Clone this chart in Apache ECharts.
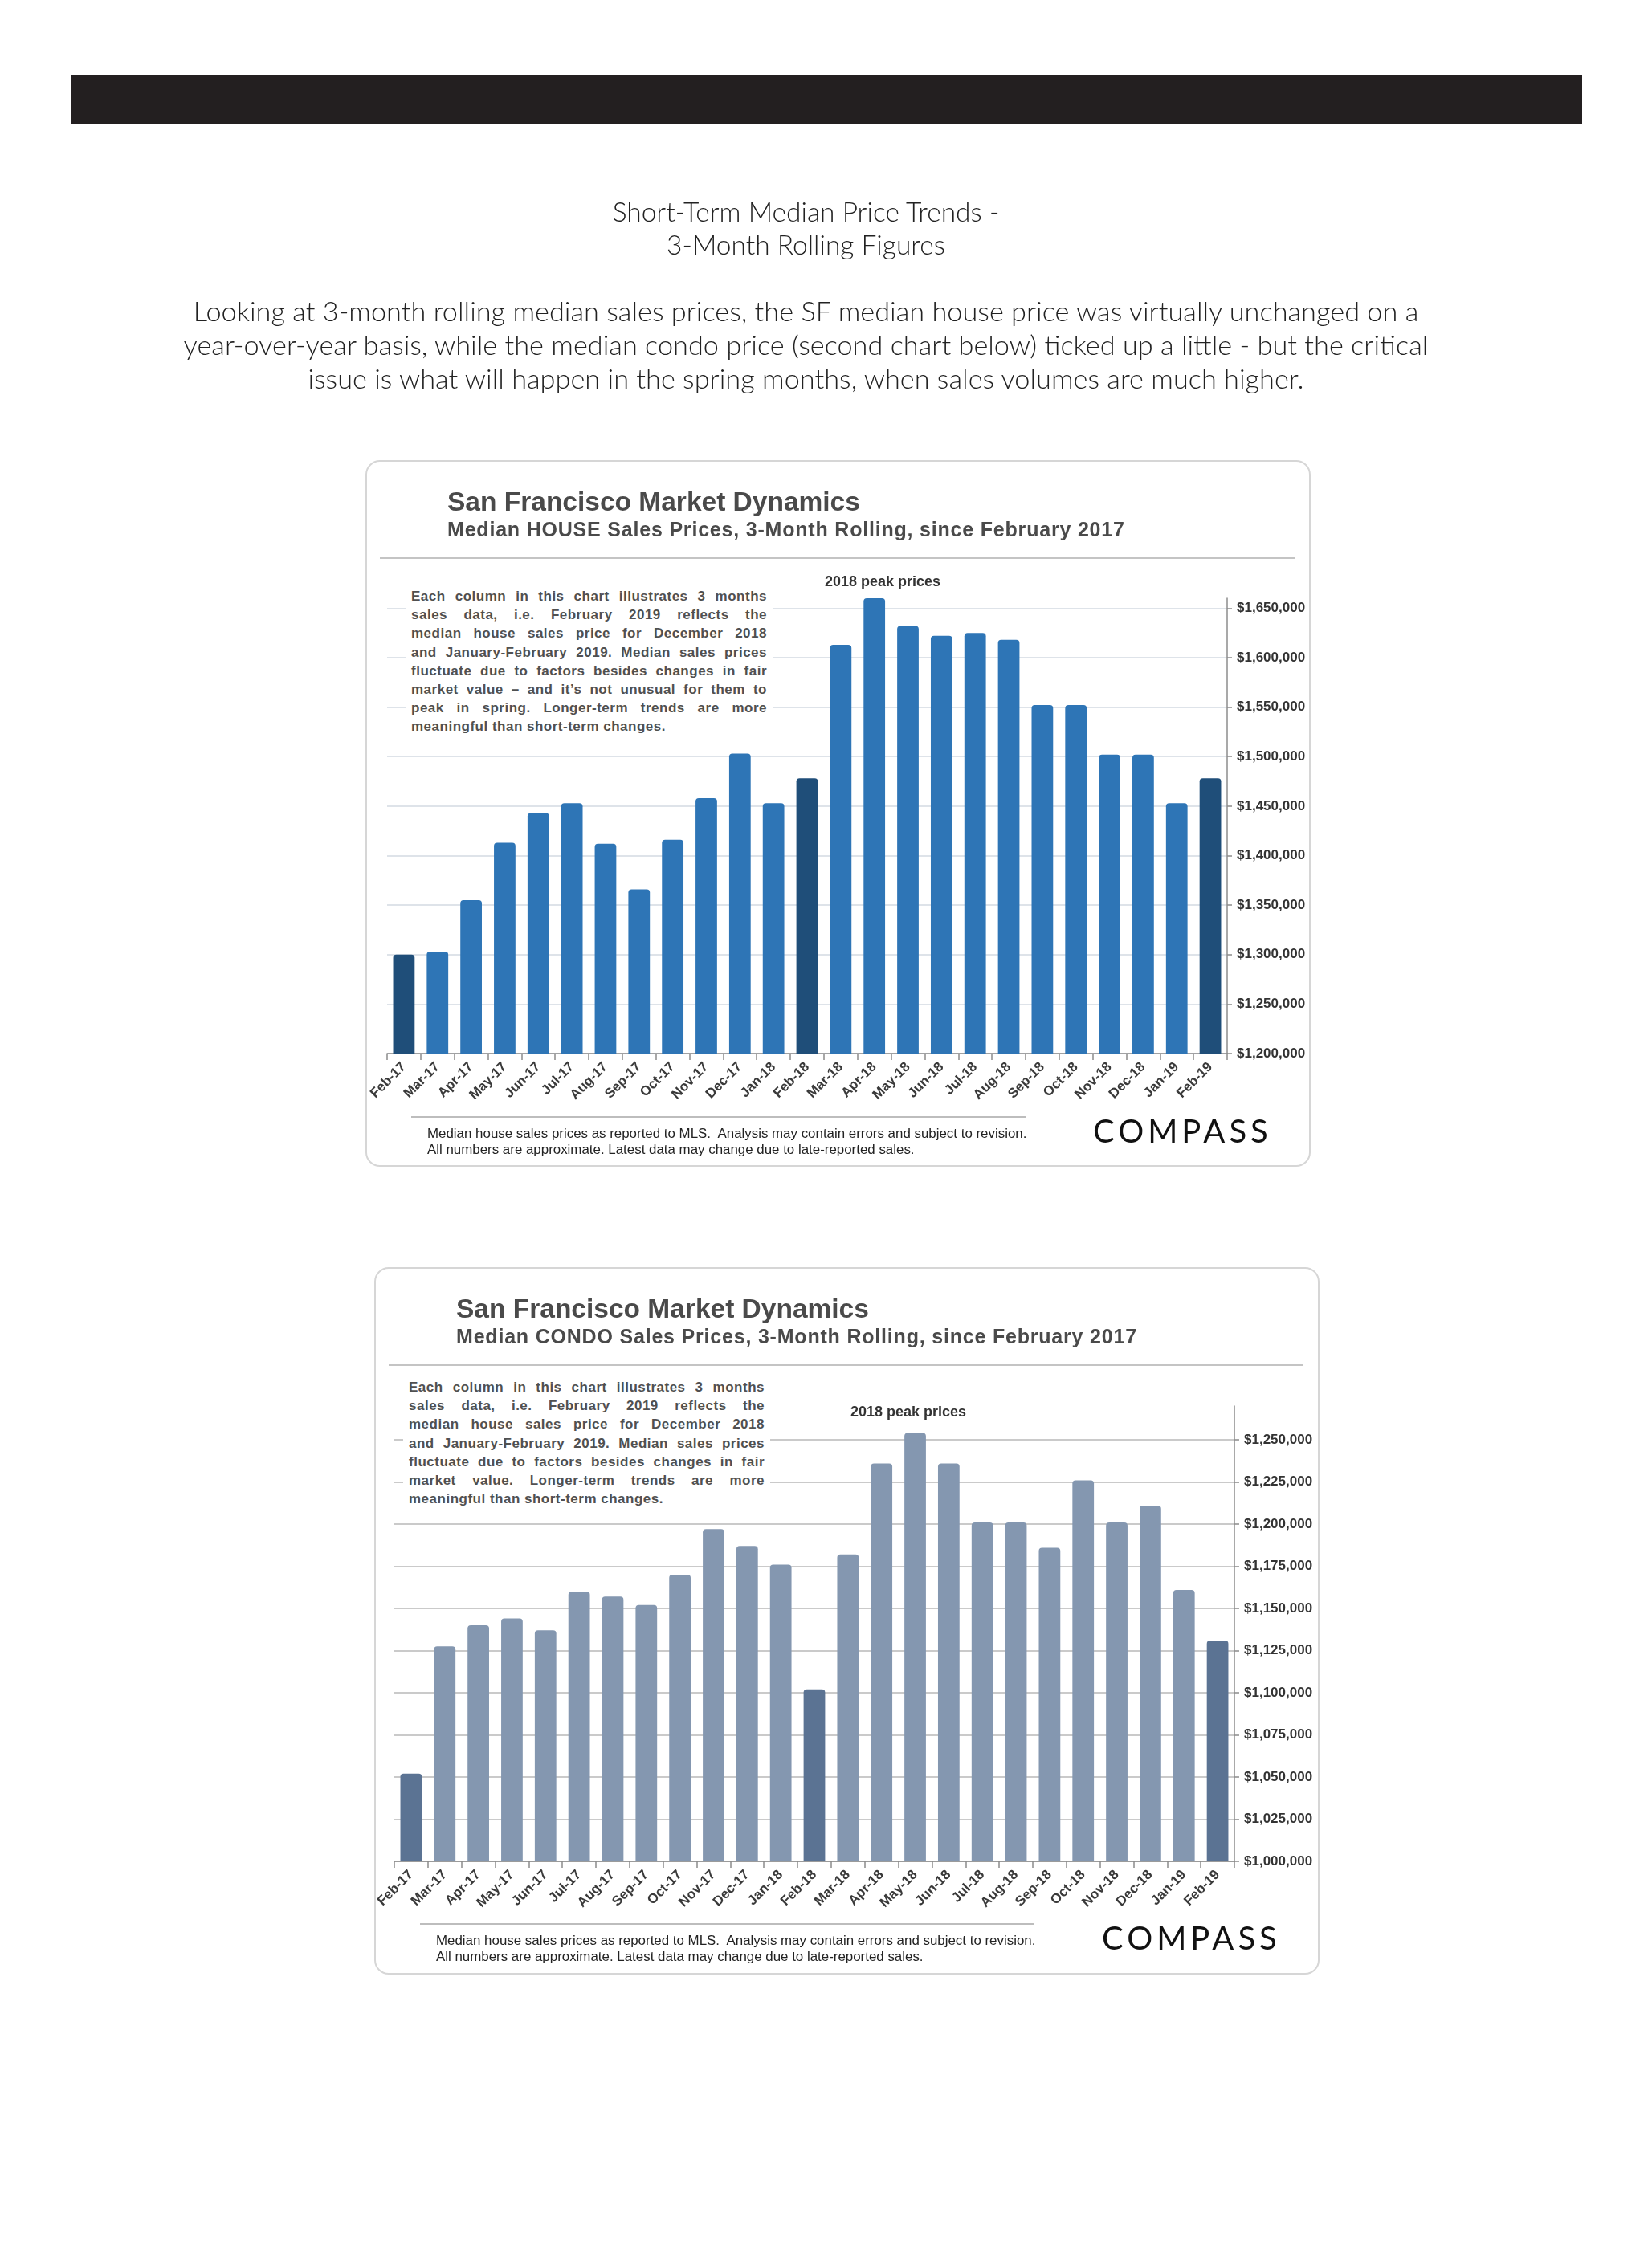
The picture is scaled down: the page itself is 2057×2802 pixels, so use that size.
<!DOCTYPE html>
<html>
<head>
<meta charset="utf-8">
<script src="https://cdn.jsdelivr.net/npm/echarts@6/dist/echarts.min.js"></script>
<style>
  html, body { margin:0; padding:0; background:#fff; }
  #page { position:relative; width:2057px; height:2802px; background:#fff; overflow:hidden; }
  #chart { position:absolute; left:0; top:0; width:2057px; height:2802px; z-index:1; }
  .box { position:absolute; border:2px solid #d6d6d6; border-radius:18px; box-sizing:border-box; background:#fff; z-index:0; }
  .ov { position:absolute; z-index:2; white-space:nowrap; }
  .ttl { font-family:"Liberation Sans", Arial, sans-serif; font-weight:bold; color:#4a4a4a; }
  .sep { position:absolute; z-index:2; background:#c4c4c4; }
  .note { position:absolute; z-index:2; background:#fff; font-family:"Liberation Sans", Arial, sans-serif; font-weight:bold; font-size:17px; letter-spacing:0.5px; line-height:23.2px; color:#505050; padding:0 7px; }
  .note div { text-align:justify; text-align-last:justify; white-space:nowrap; }
  .note div.last { text-align-last:left; }
  .peak { font-family:"Liberation Sans", Arial, sans-serif; font-weight:bold; font-size:18px; color:#333; }
  .foot { font-family:"Liberation Sans Narrow", "Arial Narrow", "Liberation Sans", Arial, sans-serif; font-size:16.9px; line-height:20px; color:#222; }
  .logo { font-family:Lato, "Open Sans", sans-serif; font-weight:400; font-size:40px; letter-spacing:5px; color:#111; line-height:40px; }
  .head { font-family:Lato,'Open Sans',sans-serif; font-weight:300; color:#222; text-align:center; }
</style>
</head>
<body>
<div id="page">
  <div style="position:absolute;left:89px;top:93px;width:1881px;height:62px;background:#231f20;"></div>
  <div class="ov head" style="left:179px;top:243px;width:1649px;font-size:33.5px;line-height:41px;">Short-Term Median Price Trends -<br>3-Month Rolling Figures</div>
  <div class="ov head" style="left:129px;top:366px;width:1749px;font-size:34.3px;line-height:42px;">Looking at 3-month rolling median sales prices, the SF median house price was virtually unchanged on a<br>year-over-year basis, while the median condo price (second chart below) ticked up a little - but the critical<br>issue is what will happen in the spring months, when sales volumes are much higher.</div>

  <!-- Box 1 -->
  <div class="box" style="left:455px;top:573px;width:1177px;height:880px;"></div>
  <div class="ov ttl" style="left:557px;top:605px;font-size:33.5px;line-height:40px;">San Francisco Market Dynamics</div>
  <div class="ov ttl" style="left:557px;top:644px;font-size:25px;letter-spacing:0.8px;line-height:30px;">Median HOUSE Sales Prices, 3-Month Rolling, since February 2017</div>
  <div class="sep" style="left:473px;top:694px;width:1139px;height:2px;"></div>
  <div class="note" style="left:505px;top:731px;width:443px;">
    <div>Each column in this chart illustrates 3 months</div>
    <div>sales data, i.e. February 2019 reflects the</div>
    <div>median house sales price for December 2018</div>
    <div>and January-February 2019. Median sales prices</div>
    <div>fluctuate due to factors besides changes in fair</div>
    <div>market value – and it’s not unusual for them to</div>
    <div>peak in spring. Longer-term trends are more</div>
    <div class="last">meaningful than short-term changes.</div>
  </div>
  <div class="ov peak" style="left:1027px;top:714px;">2018 peak prices</div>
  <div class="sep" style="left:512px;top:1390px;width:765px;height:2px;background:#bdbdbd;"></div>
  <div class="ov foot" style="left:532px;top:1402px;">Median house sales prices as reported to MLS.&nbsp; Analysis may contain errors and subject to revision.<br>All numbers are approximate. Latest data may change due to late-reported sales.</div>
  <div class="ov logo" style="left:1361px;top:1388px;">COMPASS</div>

  <!-- Box 2 -->
  <div class="box" style="left:466px;top:1578px;width:1177px;height:881px;"></div>
  <div class="ov ttl" style="left:568px;top:1610px;font-size:33.5px;line-height:40px;">San Francisco Market Dynamics</div>
  <div class="ov ttl" style="left:568px;top:1649px;font-size:25px;letter-spacing:0.8px;line-height:30px;">Median CONDO Sales Prices, 3-Month Rolling, since February 2017</div>
  <div class="sep" style="left:484px;top:1699px;width:1139px;height:2px;"></div>
  <div class="note" style="left:502px;top:1716px;width:443px;">
    <div>Each column in this chart illustrates 3 months</div>
    <div>sales data, i.e. February 2019 reflects the</div>
    <div>median house sales price for December 2018</div>
    <div>and January-February 2019. Median sales prices</div>
    <div>fluctuate due to factors besides changes in fair</div>
    <div>market value. Longer-term trends are more</div>
    <div class="last">meaningful than short-term changes.</div>
  </div>
  <div class="ov peak" style="left:1059px;top:1748px;">2018 peak prices</div>
  <div class="sep" style="left:523px;top:2395px;width:765px;height:2px;background:#bdbdbd;"></div>
  <div class="ov foot" style="left:543px;top:2407px;">Median house sales prices as reported to MLS.&nbsp; Analysis may contain errors and subject to revision.<br>All numbers are approximate. Latest data may change due to late-reported sales.</div>
  <div class="ov logo" style="left:1372px;top:2393px;">COMPASS</div>

  <div id="chart"></div>
</div>
<script>
// ---- Data ----
const months = ['Feb-17','Mar-17','Apr-17','May-17','Jun-17','Jul-17','Aug-17','Sep-17','Oct-17','Nov-17','Dec-17','Jan-18',
                'Feb-18','Mar-18','Apr-18','May-18','Jun-18','Jul-18','Aug-18','Sep-18','Oct-18','Nov-18','Dec-18','Jan-19','Feb-19'];
const houseMedian = [1300000, 1303000, 1355000, 1413000, 1443000, 1453000, 1412000, 1366000, 1416000, 1458000, 1503000, 1453000,
                     1478000, 1613000, 1660000, 1632000, 1622000, 1625000, 1618000, 1552000, 1552000, 1502000, 1502000, 1453000, 1478000];
const condoMedian = [1052000, 1127500, 1140000, 1144000, 1137000, 1160000, 1157000, 1152000, 1170000, 1197000, 1187000, 1176000,
                     1102000, 1182000, 1236000, 1254000, 1236000, 1201000, 1201000, 1186000, 1226000, 1201000, 1211000, 1161000, 1131000];
const highlightMonths = ['Feb-17', 'Feb-18', 'Feb-19'];
const houseTicks = { min: 1200000, max: 1660000, interval: 50000 };
const condoTicks = { min: 1000000, max: 1270000, interval: 25000 };

const FONT = '"Liberation Sans", Arial, sans-serif';
const money = v => '$' + Math.round(v).toLocaleString('en-US');

function xAxis(gi) {
  return {
    type: 'category', gridIndex: gi, data: months,
    axisLine: { show: true, lineStyle: { color: '#8c8c8c', width: 1.5 } },
    axisTick: { show: true, alignWithLabel: false, length: 8, lineStyle: { color: '#8c8c8c', width: 1.5 } },
    axisLabel: { interval: 0, rotate: 45, margin: 14, color: '#3a3a3a', fontFamily: FONT, fontWeight: 'bold', fontSize: 17 },
    splitLine: { show: false }
  };
}
function yAxis(gi, t, gridColor) {
  return {
    type: 'value', gridIndex: gi, position: 'right', min: t.min, max: t.max, interval: t.interval,
    axisLine: { show: true, lineStyle: { color: '#8c8c8c', width: 1.5 } },
    axisTick: { show: true, inside: false, length: 6, lineStyle: { color: '#8c8c8c', width: 1.5 } },
    axisLabel: { margin: 12, color: '#333', fontFamily: FONT, fontWeight: 'bold', fontSize: 17, showMaxLabel: false,
                 formatter: v => (v % t.interval === 0 ? money(v) : '') },
    splitLine: { show: true, showMaxLine: false, lineStyle: { color: gridColor, width: 1.5 } }
  };
}
function barSeries(gi, values, light, dark) {
  return {
    type: 'bar', xAxisIndex: gi, yAxisIndex: gi, data: values, barWidth: '64%',
    itemStyle: { borderRadius: [4, 4, 0, 0], color: p => highlightMonths.includes(p.name) ? dark : light },
    animation: false
  };
}

const chart = echarts.init(document.getElementById('chart'), null, { renderer: 'canvas' });
chart.setOption({
  animation: false,
  backgroundColor: 'transparent',
  grid: [
    { left: 482, top: 745, width: 1046, height: 567, containLabel: false },
    { left: 491, top: 1751, width: 1046, height: 567, containLabel: false }
  ],
  xAxis: [xAxis(0), xAxis(1)],
  yAxis: [yAxis(0, houseTicks, '#d3dae2'), yAxis(1, condoTicks, '#b8b8b8')],
  series: [
    barSeries(0, houseMedian, '#2e75b6', '#1f4e79'),
    barSeries(1, condoMedian, '#8497b0', '#5b7393')
  ]
});
</script>
</body>
</html>
